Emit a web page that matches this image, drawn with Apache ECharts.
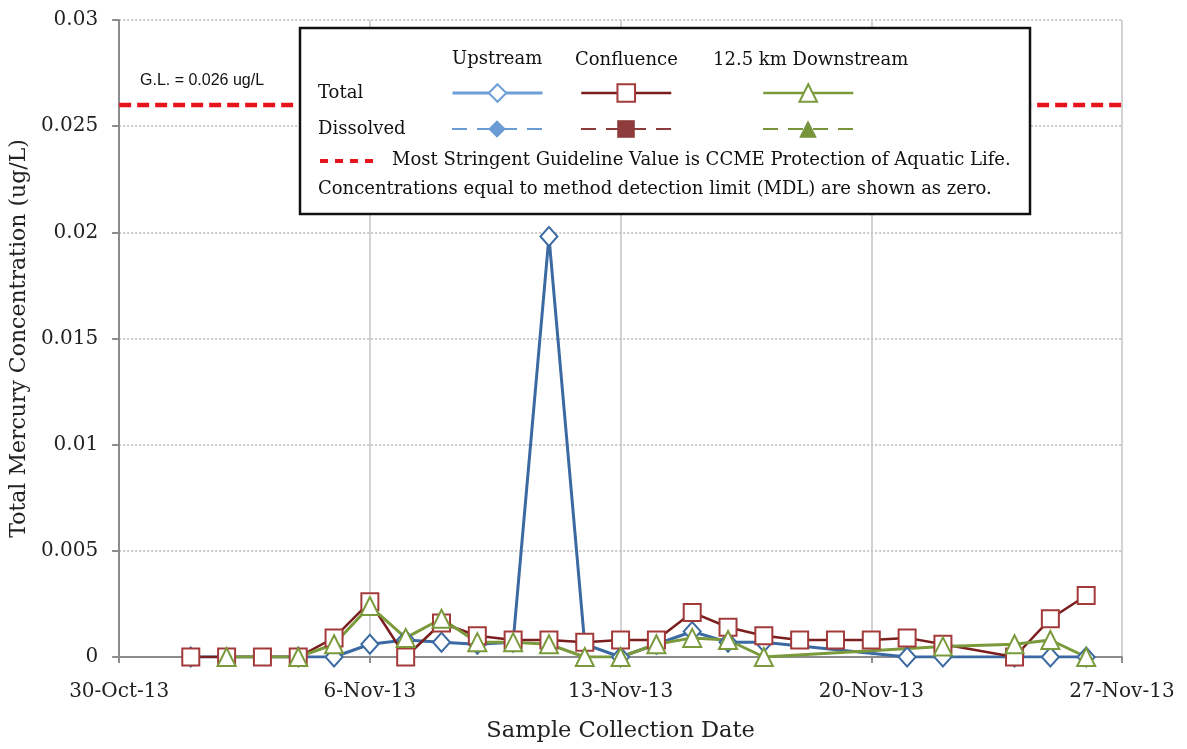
<!DOCTYPE html>
<html>
<head>
<meta charset="utf-8">
<script src="https://cdn.jsdelivr.net/npm/echarts@6/dist/echarts.min.js"></script>
<style>
  html, body { margin: 0; padding: 0; background: #fff; }
  #main { width: 1187px; height: 749px; }
</style>
</head>
<body>
<div id="main"></div>
<script>
// sample dates (day of Nov 2013)
var dates = ['2013-11-01','2013-11-02','2013-11-03','2013-11-04','2013-11-05','2013-11-06','2013-11-07',
  '2013-11-08','2013-11-09','2013-11-10','2013-11-11','2013-11-12','2013-11-13','2013-11-14','2013-11-15',
  '2013-11-16','2013-11-17','2013-11-18','2013-11-19','2013-11-20','2013-11-21','2013-11-22','2013-11-23',
  '2013-11-24','2013-11-25','2013-11-26'];
var upstreamTotal = [0, null, null, 0, 0, 0.0006, 0.0008, 0.0007, 0.0006, 0.0007, 0.0198, 0.0006, 0, 0.0006,
  0.0012, 0.0007, 0.0007, null, null, null, 0, 0, null, 0, 0, 0];
var confluenceTotal = [0, 0, 0, 0, 0.0009, 0.0026, 0, 0.0016, 0.001, 0.0008, 0.0008, 0.0007, 0.0008, 0.0008,
  0.0021, 0.0014, 0.001, 0.0008, 0.0008, 0.0008, 0.0009, 0.0006, null, 0, 0.0018, 0.0029];
var downstreamTotal = [null, 0, null, 0, 0.0006, 0.0024, 0.0009, 0.0018, 0.0007, 0.0007, 0.0006, 0, 0, 0.0006,
  0.0009, 0.0008, 0, null, null, null, null, 0.0005, null, 0.0006, 0.0008, 0];
var guideline = 0.026;
var startDate = '2013-10-30';
var xTickLabels = ['30-Oct-13', '6-Nov-13', '13-Nov-13', '20-Nov-13', '27-Nov-13'];

var DAY = 86400000;
function dayNum(s) { return (Date.parse(s) - Date.parse(startDate)) / DAY; }
function pairs(vals) {
  return dates.map(function (d, i) { return [dayNum(d), vals[i]]; });
}
var xMax = (xTickLabels.length - 1) * 7;

var SERIF = '"DejaVu Serif", serif';
var SANS = '"Liberation Sans", Arial, sans-serif';

var chart = echarts.init(document.getElementById('main'));

function legendAt(item, left, top) {
  return {
    data: [item], left: left, top: top, itemWidth: 90, itemHeight: 22,
    padding: 0, formatter: function () { return ''; }, selectedMode: false
  };
}

var option = {
  animation: false,
  grid: { left: 118, right: 65, top: 20, bottom: 92 },
  xAxis: {
    type: 'value', min: 0, max: xMax, interval: 7,
    name: 'Sample Collection Date', nameLocation: 'middle', nameGap: 63,
    nameTextStyle: { fontFamily: SERIF, fontSize: 22.5, color: '#222' },
    axisLine: { lineStyle: { color: '#8c8c8c', width: 2 } },
    axisTick: { show: true, length: 6, lineStyle: { color: '#8c8c8c', width: 2 } },
    axisLabel: {
      fontFamily: SERIF, fontSize: 20, color: '#222', margin: 25,
      formatter: function (v) { return xTickLabels[Math.round(v / 7)]; }
    },
    splitLine: { show: true, lineStyle: { color: '#c4c4c4', width: 1.5 } }
  },
  yAxis: {
    type: 'value', min: 0, max: 0.03, interval: 0.005,
    name: 'Total Mercury Concentration (ug/L)', nameLocation: 'middle', nameGap: 88,
    nameTextStyle: { fontFamily: SERIF, fontSize: 22, color: '#222' },
    axisLine: { show: true, lineStyle: { color: '#8c8c8c', width: 2 } },
    axisTick: { show: true, length: 7, lineStyle: { color: '#8c8c8c', width: 2 } },
    axisLabel: {
      fontFamily: SERIF, fontSize: 20, color: '#222', margin: 21,
      formatter: function (v) { return String(Number(v.toFixed(3))); }
    },
    splitLine: { show: true, lineStyle: { color: '#b8b8b8', width: 1.5, type: [2, 2] } }
  },
  legend: [
    legendAt({ name: 'Upstream Total', itemStyle: { color: '#6d9fd6', borderColor: '#6d9fd6' }, lineStyle: { color: '#6d9fd6', width: 3 } }, 451, 82),
    legendAt({ name: 'Confluence Total', lineStyle: { width: 2.5 } }, 580, 82),
    legendAt({ name: 'Downstream Total', lineStyle: { width: 2.5 } }, 762, 82),
    legendAt('Upstream Dissolved', 451, 118),
    legendAt('Confluence Dissolved', 580, 118),
    legendAt('Downstream Dissolved', 762, 118)
  ],
  graphic: [
    {
      type: 'rect', z: 3, shape: { x: 300, y: 28, width: 730, height: 186 },
      style: { fill: '#fff', stroke: '#111', lineWidth: 2.5 }
    },
    { type: 'text', z: 5, left: 452, top: 50, style: { text: 'Upstream', font: '18px ' + SERIF, fill: '#111' } },
    { type: 'text', z: 5, left: 575, top: 51, style: { text: 'Confluence', font: '18px ' + SERIF, fill: '#111' } },
    { type: 'text', z: 5, left: 713, top: 51, style: { text: '12.5 km Downstream', font: '18px ' + SERIF, fill: '#111' } },
    { type: 'text', z: 5, left: 318, top: 84, style: { text: 'Total', font: '18px ' + SERIF, fill: '#111' } },
    { type: 'text', z: 5, left: 318, top: 120, style: { text: 'Dissolved', font: '18px ' + SERIF, fill: '#111' } },
    {
      type: 'line', z: 5, shape: { x1: 320, y1: 161, x2: 378, y2: 161 },
      style: { stroke: '#e8141b', lineWidth: 4, lineDash: [8, 7] }
    },
    { type: 'text', z: 5, left: 392, top: 151, style: { text: 'Most Stringent Guideline Value is CCME Protection of Aquatic Life.', font: '18px ' + SERIF, fill: '#111' } },
    { type: 'text', z: 5, left: 318, top: 180, style: { text: 'Concentrations equal to method detection limit (MDL) are shown as zero.', font: '18px ' + SERIF, fill: '#111' } },
    { type: 'text', z: 5, left: 140, top: 73, style: { text: 'G.L. = 0.026 ug/L', font: '16px ' + SANS, fill: '#111' } }
  ],
  series: [
    {
      name: 'Guideline', type: 'line', symbol: 'none', z: 1,
      data: [[0, guideline], [xMax, guideline]],
      lineStyle: { color: '#e8141b', width: 4.5, type: [12, 6] },
      itemStyle: { color: '#e8141b' }
    },
    {
      name: 'Upstream Total', type: 'line', connectNulls: true,
      data: pairs(upstreamTotal),
      symbol: 'emptyDiamond', symbolSize: [17, 19],
      itemStyle: { color: '#3b6aa3', borderWidth: 3 },
      lineStyle: { color: '#3b6aa3', width: 3 }
    },
    {
      name: 'Confluence Total', type: 'line', connectNulls: true,
      data: pairs(confluenceTotal),
      symbol: 'emptyRect', symbolSize: 17,
      itemStyle: { color: '#a33a3a', borderWidth: 3 },
      lineStyle: { color: '#7a1e1e', width: 2.5 }
    },
    {
      name: 'Downstream Total', type: 'line', connectNulls: true,
      data: pairs(downstreamTotal),
      symbol: 'emptyTriangle', symbolSize: 18,
      itemStyle: { color: '#7a9a3c', borderWidth: 3 },
      lineStyle: { color: '#7a9a3c', width: 3 }
    },
    {
      name: 'Upstream Dissolved', type: 'line', data: [],
      symbol: 'diamond', itemStyle: { color: '#6a9bd3' },
      lineStyle: { color: '#6a9bd3', width: 2.5, type: [15, 10] }
    },
    {
      name: 'Confluence Dissolved', type: 'line', data: [],
      symbol: 'rect', itemStyle: { color: '#8e3b3b' },
      lineStyle: { color: '#8e3b3b', width: 2.5, type: [15, 10] }
    },
    {
      name: 'Downstream Dissolved', type: 'line', data: [],
      symbol: 'triangle', itemStyle: { color: '#77933c' },
      lineStyle: { color: '#77933c', width: 2.5, type: [15, 10] }
    }
  ]
};
chart.setOption(option);
</script>
</body>
</html>
